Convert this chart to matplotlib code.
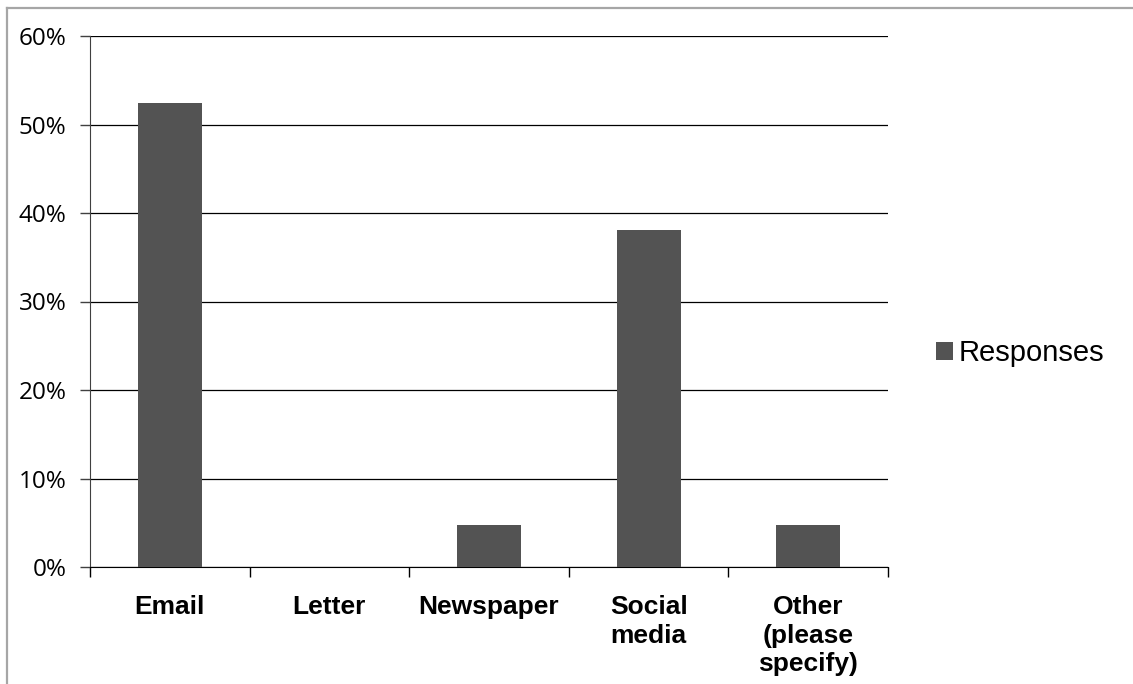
import numpy as np
import matplotlib.pyplot as plt
from matplotlib.lines import Line2D
from matplotlib.ticker import PercentFormatter

categories = ["Email", "Letter", "Newspaper", "Social\nmedia", "Other\n(please\nspecify)"]
responses = [52.38, 0.0, 4.76, 38.10, 4.76]
yticks = [0, 10, 20, 30, 40, 50, 60]

fig = plt.figure(figsize=(11.33, 6.84), dpi=100)
ax = fig.add_axes([90/1133, 1 - 567/684, (888 - 90)/1133, (567 - 36)/684])

x = np.arange(len(categories))
ax.bar(x, responses, width=0.4, color="#535353", zorder=3, label="Responses")

ax.set_xlim(-0.5, len(categories) - 0.5)
ax.set_ylim(0, 60)
ax.set_yticks(yticks)
ax.yaxis.set_major_formatter(PercentFormatter(decimals=0))
for t in ax.get_yticklabels():
    t.set_fontfamily("Open Sans")
    t.set_fontsize(17.5)

# category labels sit between the boundary ticks
ax.set_xticks(np.arange(len(categories) + 1) - 0.5)
ax.set_xticklabels([])
ax.set_xticks(x, minor=True)
ax.set_xticklabels(categories, minor=True, fontfamily="Liberation Sans",
                   fontweight="bold", fontsize=19, linespacing=1.25, va="top")
ax.tick_params(axis="x", which="minor", length=0, pad=20)
ax.tick_params(axis="x", which="major", length=7, width=1, direction="out")
ax.tick_params(axis="y", length=7, width=1, direction="out", pad=10,
               color="#404040")

ax.grid(axis="y", color="black", linewidth=0.9, zorder=1)
ax.spines["top"].set_visible(False)
ax.spines["right"].set_visible(False)
ax.spines["left"].set_color("#404040")
ax.spines["bottom"].set_color("black")

leg = fig.legend(loc="center left", bbox_to_anchor=(936/1133, 1 - 353/684),
                 frameon=False, handlelength=0.58, handleheight=0.58,
                 handletextpad=0.2, borderaxespad=0, borderpad=0,
                 prop={"family": "Liberation Sans", "size": 21})

# outer chart frame
fig.add_artist(Line2D([7/1133, 1], [1 - 7.5/684, 1 - 7.5/684],
                      transform=fig.transFigure, color="#a6a6a6", linewidth=1.6))
fig.add_artist(Line2D([7/1133, 7/1133], [0, 1 - 7.5/684],
                      transform=fig.transFigure, color="#a6a6a6", linewidth=1.6))

fig.savefig("out.png", dpi=100)
